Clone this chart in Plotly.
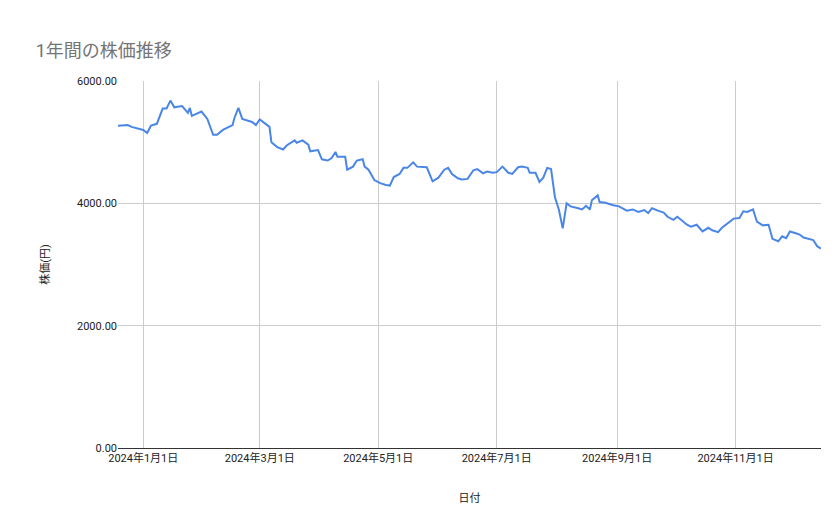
import pandas as pd
import plotly.graph_objs as go

# days from 2024-01-01, and price in yen
day_offsets = [-13, -8, -6, 0, 2, 4, 7, 9, 10, 12, 14, 16, 20, 23, 24, 25, 30, 33, 36, 38,
               41, 46, 47, 49, 51, 56, 58, 60, 63, 65, 66, 69, 72, 74, 78, 79, 82, 85, 86, 90,
               92, 95, 97, 99, 100, 104, 105, 108, 110, 113, 114, 116, 119, 122, 125, 127, 129, 132, 134, 136,
               139, 141, 146, 149, 152, 155, 157, 159, 162, 164, 167, 170, 172, 175, 177, 180, 182, 185, 188, 190,
               193, 195, 198, 199, 202, 204, 206, 208, 210, 212, 214, 216, 218, 220, 224, 226, 228, 230, 231, 234,
               235, 238, 242, 245, 249, 252, 255, 258, 260, 262, 265, 268, 270, 273, 275, 278, 280, 282, 285, 288,
               291, 293, 296, 298, 301, 304, 307, 309, 311, 314, 316, 319, 322, 324, 327, 329, 331, 333, 336, 338,
               340, 345, 347, 349]
prices = [5270, 5280, 5250, 5200, 5150, 5270, 5300, 5450, 5550, 5550, 5680, 5570, 5590, 5480, 5560, 5430, 5500, 5380, 5120, 5120,
          5200, 5280, 5400, 5560, 5380, 5330, 5280, 5370, 5300, 5250, 5000, 4920, 4880, 4950, 5030, 4990, 5030, 4960, 4850, 4870,
          4720, 4700, 4740, 4840, 4760, 4760, 4550, 4600, 4700, 4720, 4600, 4550, 4380, 4330, 4300, 4290, 4430, 4480, 4580, 4580,
          4670, 4600, 4590, 4360, 4420, 4550, 4580, 4480, 4410, 4390, 4400, 4540, 4560, 4490, 4520, 4500, 4510, 4600, 4500, 4480,
          4590, 4600, 4580, 4500, 4500, 4350, 4420, 4580, 4560, 4100, 3900, 3590, 4000, 3950, 3920, 3900, 3960, 3900, 4050, 4130,
          4020, 4010, 3970, 3950, 3880, 3900, 3860, 3890, 3840, 3920, 3880, 3850, 3780, 3730, 3780, 3700, 3650, 3620, 3650, 3540,
          3600, 3560, 3530, 3600, 3680, 3750, 3760, 3870, 3860, 3900, 3700, 3640, 3650, 3420, 3380, 3460, 3430, 3540, 3510, 3490,
          3440, 3400, 3300, 3260]

tick_dates = ['2024-01-01', '2024-03-01', '2024-05-01', '2024-07-01', '2024-09-01', '2024-11-01']
tick_labels = ['2024年1月1日', '2024年3月1日', '2024年5月1日', '2024年7月1日', '2024年9月1日', '2024年11月1日']

dates = pd.Timestamp('2024-01-01') + pd.to_timedelta(day_offsets, unit='D')

line = go.Scatter(
    x=dates,
    y=prices,
    mode='lines',
    line=dict(color='#4a86e8', width=2),
)

layout = go.Layout(
    title=dict(text='1年間の株価推移', x=0.033, y=0.93, xanchor='left',
               font=dict(size=18, color='#757575')),
    font=dict(family='Roboto, Noto Sans CJK JP', size=11, color='#222222'),
    width=839, height=519,
    margin=dict(l=110, r=26, t=73, b=79),
    plot_bgcolor='white', paper_bgcolor='white',
    showlegend=False,
    xaxis=dict(
        range=['2023-12-19', '2024-12-15'],
        tickvals=tick_dates, ticktext=tick_labels,
        showgrid=True, gridcolor='#cccccc',
        showline=True, linecolor='#333333',
        automargin=False,
        title=dict(text='日付', font=dict(size=11), standoff=30),
    ),
    yaxis=dict(
        range=[0, 6000],
        tickvals=[0, 2000, 4000, 6000],
        tickformat='.2f',
        gridcolor='#cccccc', zeroline=False,
        automargin=False,
        title=dict(text='株価(円)', font=dict(size=11), standoff=25),
    ),
)

fig = go.Figure(data=[line], layout=layout)
fig.write_html('out.html')
